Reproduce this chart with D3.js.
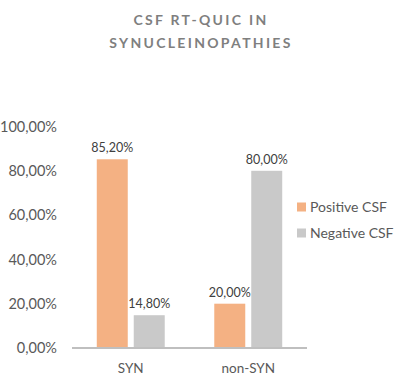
<!DOCTYPE html>
<html><head><meta charset="utf-8">
<script src="https://cdn.jsdelivr.net/npm/d3@7"></script>
<style>body{margin:0;background:#fff}svg{display:block;font-family:Lato,"Open Sans",sans-serif}</style>
</head><body><svg id="c" width="404" height="390"></svg>
<script>
const categories = ["SYN", "non-SYN"];
const seriesNames = ["Positive CSF", "Negative CSF"];
const positive = [85.2, 20.0];
const negative = [14.8, 80.0];
const yTicks = [0, 20, 40, 60, 80, 100];
const titleLines = ["CSF RT-QUIC IN", "SYNUCLEINOPATHIES"];
const colors = ["#F4B183", "#C9C9C9"];

const svg = d3.select("#c");
const fmt = v => d3.format(".2f")(v).replace(".", ",") + "%";
const x = d3.scaleBand().domain(categories).range([72, 307]);
const xs = d3.scaleBand().domain(seriesNames).range([0, x.bandwidth()]).paddingInner(0.162).paddingOuter(0.67);
const y = d3.scaleLinear().domain([0, 100]).range([348, 126.5]);

svg.selectAll(".t").data(titleLines).join("text")
  .attr("x", 201).attr("y", (d, i) => 25 + i * 23)
  .attr("text-anchor", "middle").attr("fill", "#7F7F7F")
  .attr("font-size", 14).attr("font-weight", "bold").attr("letter-spacing", 2.3)
  .text(d => d);

const yAxis = d3.axisLeft(y).tickValues(yTicks).tickSize(0).tickPadding(0).tickFormat(fmt);
const ga = svg.append("g").attr("transform", "translate(57,0)").call(yAxis);
ga.select(".domain").remove();
ga.selectAll("text").attr("fill", "#595959").attr("font-size", 14.5).attr("font-family", "Lato,sans-serif");

const data = categories.map((c, i) => ({c, vals: [positive[i], negative[i]]}));
const g = svg.selectAll(".cat").data(data).join("g").attr("transform", d => `translate(${x(d.c)},0)`);
g.selectAll("rect").data(d => d.vals.map((v, j) => ({v, s: seriesNames[j], j}))).join("rect")
  .attr("x", d => xs(d.s)).attr("width", xs.bandwidth())
  .attr("y", d => y(d.v)).attr("height", d => y(0) - y(d.v))
  .attr("fill", d => colors[d.j]);
g.selectAll(".lbl").data(d => d.vals.map((v, j) => ({v, s: seriesNames[j], j}))).join("text")
  .attr("x", d => xs(d.s) + xs.bandwidth() / 2).attr("y", d => y(d.v) - 7)
  .attr("text-anchor", "middle").attr("fill", "#404040").attr("font-size", 12.5)
  .text(d => fmt(d.v));

svg.append("line").attr("x1", 72).attr("x2", 307).attr("y1", y(0)).attr("y2", y(0))
  .attr("stroke", "#BFBFBF").attr("stroke-width", 2);

const xAxis = d3.axisBottom(x).tickSize(0).tickPadding(0);
const gx = svg.append("g").attr("transform", "translate(0,363)").call(xAxis);
gx.select(".domain").remove();
gx.selectAll("text").attr("fill", "#595959").attr("font-size", 13.5).attr("font-family", "Lato,sans-serif");

const lg = svg.selectAll(".lg").data(seriesNames).join("g")
  .attr("transform", (d, i) => `translate(297,${207 + i * 26})`);
lg.append("rect").attr("x", 0).attr("y", -4.5).attr("width", 9).attr("height", 9).attr("fill", (d, i) => colors[i]);
lg.append("text").attr("x", 13).attr("y", 5).attr("fill", "#595959").attr("font-size", 14).text(d => d);
</script></body></html>
